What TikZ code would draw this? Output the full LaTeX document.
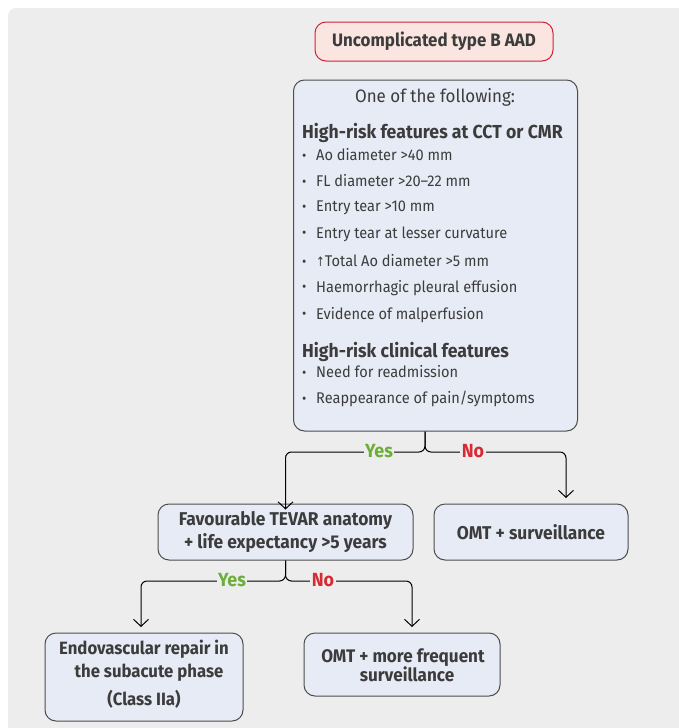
\documentclass[tikz,border=0pt]{standalone}
\usepackage{fontspec}
\setmainfont{Fira Sans}[FakeStretch=0.94]
\newfontfamily\symfnt{DejaVu Sans}[FakeStretch=0.8]
\usetikzlibrary{arrows.meta}
\definecolor{panel}{HTML}{ECEDEC}
\definecolor{boxfill}{HTML}{E7EBF5}
\definecolor{boxdraw}{HTML}{4D4D4D}
\definecolor{pinkfill}{HTML}{FBE5E1}
\definecolor{reddraw}{HTML}{D4203A}
\definecolor{txt}{HTML}{3C3C3C}
\definecolor{yesc}{HTML}{6BAE3A}
\definecolor{noc}{HTML}{D62A35}
\newcommand{\bul}{\makebox[14pt][l]{\raisebox{0.5pt}{\fontsize{14}{14}\selectfont •}}}
\tikzset{
  flowbox/.style={draw=boxdraw, fill=boxfill, line width=1pt, rounded corners=11pt, inner sep=0pt},
  topbox/.style={draw=reddraw, fill=pinkfill, line width=1pt, rounded corners=11pt, inner sep=0pt,
    minimum width=238pt, minimum height=39pt, text=txt, font=\fontsize{18}{20}\selectfont\bfseries},
  itemtxt/.style={anchor=west, inner sep=0pt, text=txt, font=\fontsize{15.5}{18}\selectfont},
  headtxt/.style={anchor=west, inner sep=0pt, text=txt, font=\fontsize{18.8}{22}\selectfont\bfseries},
  boxlbl/.style={inner sep=0pt, text=txt, align=center, font=\fontsize{18.5}{23}\selectfont\bfseries},
  conn/.style={draw=black, line width=1pt, rounded corners=6pt},
  arr/.style={-{Straight Barb[length=7pt,width=15pt,line width=1pt]}},
  yeslbl/.style={fill=panel, inner sep=1.5pt, text=yesc, font=\fontsize{19}{20}\selectfont\bfseries},
  nolbl/.style={fill=panel, inner sep=1.5pt, text=noc, font=\fontsize{19}{20}\selectfont\bfseries},
}
\begin{document}
\begin{tikzpicture}[x=1pt,y=-1pt]
\useasboundingbox (0,0) rectangle (679,728);
\fill[white] (0,0) rectangle (679,728);
\fill[panel] (8,728) -- (8,16) arc[start angle=180, end angle=270, radius=8] -- (679,8) -- (679,728) -- cycle;

% top node
\node[topbox] (start) at (434,41.5) {Uncomplicated type B AAD};

% main box
\node[flowbox, minimum width=284pt, minimum height=351pt] (main) at (435.5,255.5) {};
\node[inner sep=0pt, text=txt, font=\fontsize{18}{22}\selectfont] (oneof) at (435,97) {One of the following:};
\node[headtxt] (h1) at (302,133) {High-risk features at CCT or CMR};
\node[itemtxt] (i1) at (302,155) {\bul Ao diameter >40 mm};
\node[itemtxt] (i2) at (302,181) {\bul FL diameter >20–22 mm};
\node[itemtxt] (i3) at (302,208) {\bul Entry tear >10 mm};
\node[itemtxt] (i4) at (302,234) {\bul Entry tear at lesser curvature};
\node[itemtxt] (i5) at (302,261) {\bul{\symfnt\fontsize{13}{15}\selectfont ↑}Total Ao diameter >5 mm};
\node[itemtxt] (i6) at (302,288) {\bul Haemorrhagic pleural effusion};
\node[itemtxt] (i7) at (302,315) {\bul Evidence of malperfusion};
\node[headtxt] (h2) at (302,352) {High-risk clinical features};
\node[itemtxt] (i8) at (302,372) {\bul Need for readmission};
\node[itemtxt] (i9) at (302,399) {\bul Reappearance of pain/symptoms};

% second row
\node[flowbox, minimum width=255pt, minimum height=56pt] (fav) at (285.5,532) {};
\node[boxlbl] (favt) at (fav.center) {Favourable TEVAR anatomy\\+ life expectancy >5 years};
\node[flowbox, minimum width=194pt, minimum height=56pt] (omt) at (531,532) {};
\node[boxlbl] (omtt) at (omt.center) {OMT + surveillance};

% third row
\node[flowbox, minimum width=198pt, minimum height=88pt] (endo) at (144,677) {};
\node[boxlbl, font=\fontsize{17.8}{23}\selectfont\bfseries] (endot) at (144,674) {Endovascular repair in\\\hspace*{10pt}the subacute phase\\[5pt](Class IIa)};
\node[flowbox, minimum width=196pt, minimum height=63pt] (omt2) at (402,664.5) {};
\node[boxlbl, font=\fontsize{18.2}{19.5}\selectfont\bfseries] (omt2t) at (403,665) {OMT + more frequent\\\hspace*{8pt}surveillance};

% connectors 1
\coordinate (j1) at (425,452);
\coordinate (t1r) at (566,498);
\draw[conn, arr] (main.south -| j1) -- (j1) -- (fav.north |- j1) -- ([yshift=-6pt]fav.north);
\draw[conn, arr] (main.south -| j1) -- (j1) -- (t1r |- j1) -- (t1r);
\node[yeslbl] (y1) at (379,451) {Yes};
\node[nolbl] (n1) at (473,451) {No};

% connectors 2
\coordinate (j2) at (fav.south |- 0,581);
\coordinate (t2l) at (141,627);
\coordinate (t2r) at (412,627);
\draw[conn, arr] (fav.south) -- (j2) -- (t2l |- j2) -- (t2l);
\draw[conn, arr] (fav.south) -- (j2) -- (t2r |- j2) -- (t2r);
\node[yeslbl] (y2) at (232,580) {Yes};
\node[nolbl] (n2) at (323,580) {No};
\end{tikzpicture}
\end{document}
